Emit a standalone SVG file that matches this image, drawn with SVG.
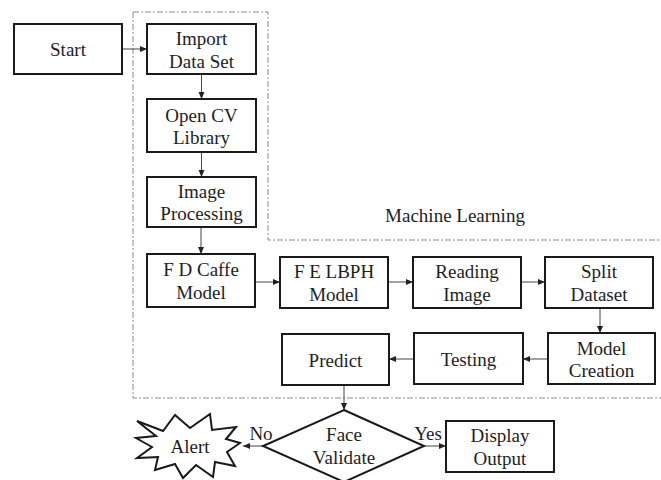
<svg xmlns="http://www.w3.org/2000/svg" width="661" height="480" viewBox="0 0 661 480">
  <defs>
    <marker id="arr" markerWidth="8" markerHeight="8" refX="7" refY="4" orient="auto" markerUnits="userSpaceOnUse">
      <path d="M0,1 L7,4 L0,7 Z" fill="#222"/>
    </marker>
    <style>
      .box { fill: #fff; stroke: #1a1a1a; stroke-width: 2; }
      .lbl { font-family: "Liberation Serif", "Times New Roman", serif; font-size: 19px; fill: #1e1e1e; text-anchor: middle; }
      .con { stroke: #444; stroke-width: 1; fill: none; marker-end: url(#arr); }
      .zone { stroke: #8a8a8a; stroke-width: 1; fill: none; stroke-dasharray: 6 2 2 2; }
    </style>
  </defs>
  <rect width="661" height="480" fill="#fff"/>

  <!-- Machine Learning region -->
  <g id="ml-region">
    <path class="zone" d="M133,12 H268 V240 H661"/>
    <path class="zone" d="M133,12 V398 H661"/>
    <text class="lbl" x="455" y="222">Machine Learning</text>
  </g>

  <!-- connectors -->
  <g id="connectors">
    <line class="con" x1="122" y1="49" x2="147" y2="49"/>
    <line class="con" x1="201.5" y1="74" x2="201.5" y2="99"/>
    <line class="con" x1="201.5" y1="152" x2="201.5" y2="177"/>
    <line class="con" x1="201" y1="227" x2="201" y2="254"/>
    <line class="con" x1="255" y1="282" x2="280" y2="282"/>
    <line class="con" x1="388" y1="282" x2="413" y2="282"/>
    <line class="con" x1="521" y1="282" x2="545" y2="282"/>
    <line class="con" x1="600" y1="308" x2="600" y2="333"/>
    <line class="con" x1="548" y1="359" x2="523" y2="359"/>
    <line class="con" x1="414" y1="359" x2="389" y2="359"/>
    <line class="con" x1="344" y1="385" x2="344" y2="410"/>
    <line class="con" x1="263" y1="446" x2="243" y2="446"/>
    <line class="con" x1="424" y1="446" x2="446" y2="446"/>
    <text class="lbl" x="261" y="440">No</text>
    <text class="lbl" x="428" y="440">Yes</text>
  </g>

  <g id="start">
    <rect class="box" x="14" y="24" width="108" height="50"/>
    <text class="lbl" x="68" y="56">Start</text>
  </g>
  <g id="import-data-set">
    <rect class="box" x="147" y="24" width="109" height="50"/>
    <text class="lbl" x="201.5" y="45">Import</text>
    <text class="lbl" x="201.5" y="68">Data Set</text>
  </g>
  <g id="open-cv-library">
    <rect class="box" x="147" y="99" width="109" height="53"/>
    <text class="lbl" x="201.5" y="122">Open CV</text>
    <text class="lbl" x="201.5" y="144">Library</text>
  </g>
  <g id="image-processing">
    <rect class="box" x="147" y="177" width="109" height="50"/>
    <text class="lbl" x="201.5" y="198">Image</text>
    <text class="lbl" x="201.5" y="220">Processing</text>
  </g>
  <g id="fd-caffe-model">
    <rect class="box" x="147" y="254" width="108" height="53"/>
    <text class="lbl" x="201" y="276">F D Caffe</text>
    <text class="lbl" x="201" y="299">Model</text>
  </g>
  <g id="fe-lbph-model">
    <rect class="box" x="280" y="257" width="108" height="51"/>
    <text class="lbl" x="334" y="278">F E LBPH</text>
    <text class="lbl" x="334" y="301">Model</text>
  </g>
  <g id="reading-image">
    <rect class="box" x="413" y="257" width="108" height="51"/>
    <text class="lbl" x="467" y="278">Reading</text>
    <text class="lbl" x="467" y="301">Image</text>
  </g>
  <g id="split-dataset">
    <rect class="box" x="545" y="257" width="108" height="51"/>
    <text class="lbl" x="599" y="278">Split</text>
    <text class="lbl" x="599" y="301">Dataset</text>
  </g>
  <g id="model-creation">
    <rect class="box" x="548" y="333" width="107" height="51"/>
    <text class="lbl" x="601.5" y="355">Model</text>
    <text class="lbl" x="601.5" y="377">Creation</text>
  </g>
  <g id="testing">
    <rect class="box" x="414" y="333" width="109" height="51"/>
    <text class="lbl" x="468.5" y="366">Testing</text>
  </g>
  <g id="predict">
    <rect class="box" x="282" y="334" width="107" height="51"/>
    <text class="lbl" x="335.5" y="367">Predict</text>
  </g>
  <g id="face-validate">
    <polygon class="box" points="344,410 424,446 344,482 263,446"/>
    <text class="lbl" x="344" y="441">Face</text>
    <text class="lbl" x="344" y="464">Validate</text>
  </g>
  <g id="alert">
    <polygon class="box" stroke-width="1.3" points="137,421 163,431 175,415 190,428 210,414 212,430 236,427 226,439 240,443 227,452 235,466 215,462 213,477 196,465 183,478 175,464 155,470 158,457 137,458 152,447 136,438 156,436"/>
    <text class="lbl" x="190" y="453">Alert</text>
  </g>
  <g id="display-output">
    <rect class="box" x="446" y="421" width="108" height="51"/>
    <text class="lbl" x="500" y="442">Display</text>
    <text class="lbl" x="500" y="465">Output</text>
  </g>
</svg>
